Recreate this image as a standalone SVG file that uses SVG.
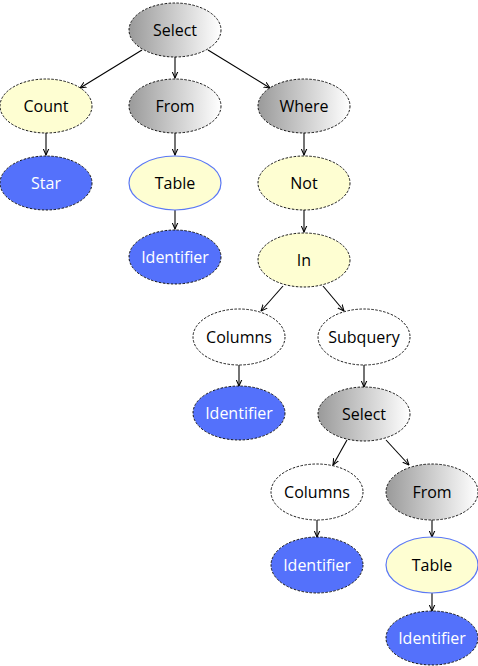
<svg xmlns="http://www.w3.org/2000/svg" width="478" height="666" viewBox="0 0 478 666">
<defs>
<linearGradient id="gray" x1="0" y1="0" x2="1" y2="0">
<stop offset="0" stop-color="#9a9a9a"/>
<stop offset="1" stop-color="#ffffff"/>
</linearGradient>
<marker id="arr" viewBox="0 0 10 10" refX="9" refY="5" markerWidth="7" markerHeight="7" orient="auto" markerUnits="userSpaceOnUse">
<path d="M0,1 L9,5 L0,9" fill="none" stroke="#000" stroke-width="1.5"/>
</marker>
<style>
.n ellipse{stroke:#000;stroke-width:0.9;stroke-dasharray:2.5 1.5}
.g ellipse{fill:url(#gray)}
.y ellipse{fill:#fefed2}
.b ellipse{fill:#5471fb}
.w ellipse{fill:#fff}
.t ellipse{fill:#fefed2;stroke:#5b78f5;stroke-width:1.2;stroke-dasharray:none}
text{font-family:"Open Sans","Noto Sans","DejaVu Sans",sans-serif;font-size:16px;text-anchor:middle;dominant-baseline:central;fill:#000}
.b text{fill:#fff}
#edges line{stroke:#000;stroke-width:1.1;marker-end:url(#arr)}
</style>
</defs>
<rect width="478" height="666" fill="#fff"/>
<g id="edges">
<line x1="142" y1="50" x2="80" y2="88"/>
<line x1="175" y1="57" x2="175" y2="78"/>
<line x1="208" y1="50" x2="270" y2="88"/>
<line x1="46" y1="133" x2="46" y2="155"/>
<line x1="175" y1="133" x2="175" y2="155"/>
<line x1="304" y1="133" x2="304" y2="155"/>
<line x1="175" y1="210" x2="175" y2="229"/>
<line x1="304" y1="210" x2="304" y2="232"/>
<line x1="283" y1="286" x2="261" y2="311"/>
<line x1="323" y1="286" x2="344" y2="311"/>
<line x1="239" y1="365" x2="239" y2="386"/>
<line x1="364" y1="365" x2="364" y2="387"/>
<line x1="347" y1="440" x2="333" y2="465"/>
<line x1="386" y1="440" x2="409" y2="465"/>
<line x1="317" y1="520" x2="317" y2="537"/>
<line x1="432" y1="520" x2="432" y2="537"/>
<line x1="432" y1="593" x2="432" y2="611"/>
</g>
<g id="select1" class="n g"><ellipse cx="175" cy="30" rx="46" ry="27"/><text x="175" y="30">Select</text></g>
<g id="count" class="n y"><ellipse cx="46" cy="106" rx="46" ry="27"/><text x="46" y="106">Count</text></g>
<g id="from1" class="n g"><ellipse cx="175" cy="106" rx="46" ry="27"/><text x="175" y="106">From</text></g>
<g id="where" class="n g"><ellipse cx="304" cy="106" rx="46" ry="27"/><text x="304" y="106">Where</text></g>
<g id="star" class="n b"><ellipse cx="46" cy="183" rx="46" ry="27"/><text x="46" y="183">Star</text></g>
<g id="table1" class="n t"><ellipse cx="175" cy="183" rx="46" ry="27"/><text x="175" y="183">Table</text></g>
<g id="not" class="n y"><ellipse cx="304" cy="183" rx="46" ry="27"/><text x="304" y="183">Not</text></g>
<g id="identifier1" class="n b"><ellipse cx="175" cy="257" rx="46" ry="27"/><text x="175" y="257">Identifier</text></g>
<g id="in" class="n y"><ellipse cx="304" cy="260" rx="46" ry="27"/><text x="304" y="260">In</text></g>
<g id="columns1" class="n w"><ellipse cx="239" cy="337" rx="46" ry="28"/><text x="239" y="337">Columns</text></g>
<g id="subquery" class="n w"><ellipse cx="364" cy="337" rx="46" ry="28"/><text x="364" y="337">Subquery</text></g>
<g id="identifier2" class="n b"><ellipse cx="239" cy="413" rx="46" ry="27"/><text x="239" y="413">Identifier</text></g>
<g id="select2" class="n g"><ellipse cx="364" cy="414" rx="46" ry="27"/><text x="364" y="414">Select</text></g>
<g id="columns2" class="n w"><ellipse cx="317" cy="492" rx="46" ry="28"/><text x="317" y="492">Columns</text></g>
<g id="from2" class="n g"><ellipse cx="432" cy="492" rx="46" ry="28"/><text x="432" y="492">From</text></g>
<g id="identifier3" class="n b"><ellipse cx="317" cy="565" rx="46" ry="28"/><text x="317" y="565">Identifier</text></g>
<g id="table2" class="n t"><ellipse cx="432" cy="565" rx="46" ry="28"/><text x="432" y="565">Table</text></g>
<g id="identifier4" class="n b"><ellipse cx="432" cy="638" rx="46" ry="27"/><text x="432" y="638">Identifier</text></g>
</svg>
